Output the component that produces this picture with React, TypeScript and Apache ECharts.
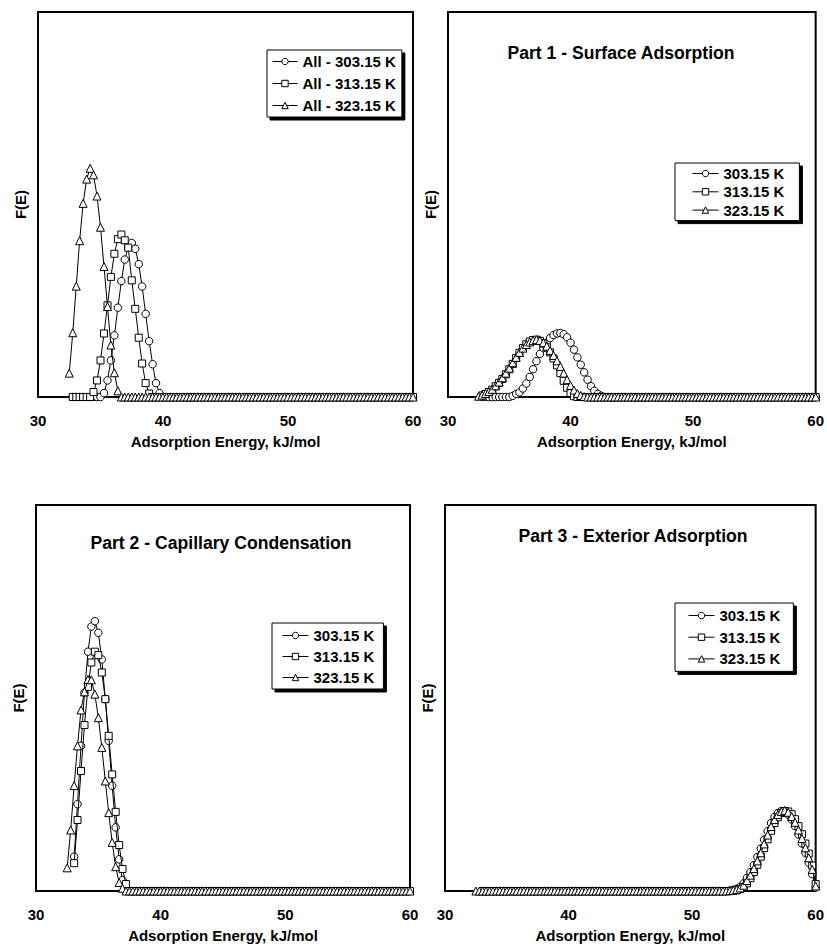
import React, { useEffect, useRef } from "react";
import * as echarts from "echarts";

const FONT = "'Liberation Sans', Arial, Helvetica, sans-serif";

// Energy grid, kJ/mol
const ENERGY = [
  32.5, 32.78, 33.06, 33.33, 33.61, 33.89, 34.17, 34.44, 34.72, 35.0,
  35.28, 35.56, 35.83, 36.11, 36.39, 36.67, 36.94, 37.22, 37.5, 37.78,
  38.06, 38.33, 38.61, 38.89, 39.17, 39.44, 39.72, 40.0, 40.28, 40.56,
  40.83, 41.11, 41.39, 41.67, 41.94, 42.22, 42.5, 42.78, 43.06, 43.33,
  43.61, 43.89, 44.17, 44.44, 44.72, 45.0, 45.28, 45.56, 45.83, 46.11,
  46.39, 46.67, 46.94, 47.22, 47.5, 47.78, 48.06, 48.33, 48.61, 48.89,
  49.17, 49.44, 49.72, 50.0, 50.28, 50.56, 50.83, 51.11, 51.39, 51.67,
  51.94, 52.22, 52.5, 52.78, 53.06, 53.33, 53.61, 53.89, 54.17, 54.44,
  54.72, 55.0, 55.28, 55.56, 55.83, 56.11, 56.39, 56.67, 56.94, 57.22,
  57.5, 57.78, 58.06, 58.33, 58.61, 58.89, 59.17, 59.44, 59.72, 60.0,
];

const X_TICKS = [30, 40, 50, 60];
const NAMES_ALL = ["All - 303.15 K", "All - 313.15 K", "All - 323.15 K"];
const NAMES = ["303.15 K", "313.15 K", "323.15 K"];
const TITLES = ["", "Part 1 - Surface Adsorption", "Part 2 - Capillary Condensation", "Part 3 - Exterior Adsorption"];

// Panel 1 - All
const ALL_303 = [
  null, 0, 0, 0, 0, 0, 0, 0, 0, 0,
  0.01, 0.043, 0.095, 0.16, 0.232, 0.301, 0.357, 0.39, 0.4, 0.385,
  0.345, 0.287, 0.216, 0.145, 0.085, 0.036, 0.01, 0, 0, 0,
  0, 0, 0, 0, 0, 0, 0, 0, 0, 0,
  0, 0, 0, 0, 0, 0, 0, 0, 0, 0,
  0, 0, 0, 0, 0, 0, 0, 0, 0, 0,
  0, 0, 0, 0, 0, 0, 0, 0, 0, 0,
  0, 0, 0, 0, 0, 0, 0, 0, 0, 0,
  0, 0, 0, 0, 0, 0, 0, 0, 0, 0,
  0, 0, 0, 0, 0, 0, 0, 0, 0, 0,
];
const ALL_313 = [
  null, 0, 0, 0, 0, 0, 0, 0.013, 0.043, 0.095,
  0.165, 0.238, 0.312, 0.372, 0.41, 0.422, 0.407, 0.388, 0.303, 0.229,
  0.154, 0.087, 0.036, 0.009, 0, 0, 0, 0, 0, 0,
  0, 0, 0, 0, 0, 0, 0, 0, 0, 0,
  0, 0, 0, 0, 0, 0, 0, 0, 0, 0,
  0, 0, 0, 0, 0, 0, 0, 0, 0, 0,
  0, 0, 0, 0, 0, 0, 0, 0, 0, 0,
  0, 0, 0, 0, 0, 0, 0, 0, 0, 0,
  0, 0, 0, 0, 0, 0, 0, 0, 0, 0,
  0, 0, 0, 0, 0, 0, 0, 0, 0, 0,
];
const ALL_323 = [
  0.062, 0.167, 0.288, 0.406, 0.503, 0.566, 0.594, 0.577, 0.522, 0.441,
  0.339, 0.235, 0.135, 0.063, 0.016, 0, 0, 0, 0, 0,
  0, 0, 0, 0, 0, 0, 0, 0, 0, 0,
  0, 0, 0, 0, 0, 0, 0, 0, 0, 0,
  0, 0, 0, 0, 0, 0, 0, 0, 0, 0,
  0, 0, 0, 0, 0, 0, 0, 0, 0, 0,
  0, 0, 0, 0, 0, 0, 0, 0, 0, 0,
  0, 0, 0, 0, 0, 0, 0, 0, 0, 0,
  0, 0, 0, 0, 0, 0, 0, 0, 0, 0,
  0, 0, 0, 0, 0, 0, 0, 0, 0, 0,
];

// Panel 2 - Surface adsorption
const SURF_303 = [
  null, 0, 0, 0, 0, 0, 0, 0, 0, 0,
  0.003, 0.008, 0.012, 0.022, 0.035, 0.052, 0.072, 0.093, 0.112, 0.127,
  0.141, 0.153, 0.161, 0.165, 0.166, 0.163, 0.155, 0.141, 0.123, 0.103,
  0.084, 0.064, 0.045, 0.028, 0.016, 0.008, 0.003, 0, 0, 0,
  0, 0, 0, 0, 0, 0, 0, 0, 0, 0,
  0, 0, 0, 0, 0, 0, 0, 0, 0, 0,
  0, 0, 0, 0, 0, 0, 0, 0, 0, 0,
  0, 0, 0, 0, 0, 0, 0, 0, 0, 0,
  0, 0, 0, 0, 0, 0, 0, 0, 0, 0,
  0, 0, 0, 0, 0, 0, 0, 0, 0, 0,
];
const SURF_313 = [
  null, 0.004, 0.008, 0.013, 0.019, 0.028, 0.037, 0.047, 0.059, 0.072,
  0.086, 0.101, 0.115, 0.127, 0.137, 0.144, 0.148, 0.149, 0.146, 0.139,
  0.129, 0.116, 0.1, 0.082, 0.062, 0.042, 0.024, 0.01, 0.002, 0,
  0, 0, 0, 0, 0, 0, 0, 0, 0, 0,
  0, 0, 0, 0, 0, 0, 0, 0, 0, 0,
  0, 0, 0, 0, 0, 0, 0, 0, 0, 0,
  0, 0, 0, 0, 0, 0, 0, 0, 0, 0,
  0, 0, 0, 0, 0, 0, 0, 0, 0, 0,
  0, 0, 0, 0, 0, 0, 0, 0, 0, 0,
  0, 0, 0, 0, 0, 0, 0, 0, 0, 0,
];
const SURF_323 = [
  0.002, 0.005, 0.009, 0.014, 0.02, 0.029, 0.039, 0.05, 0.062, 0.075,
  0.089, 0.103, 0.116, 0.127, 0.136, 0.143, 0.147, 0.149, 0.147, 0.141,
  0.132, 0.121, 0.108, 0.094, 0.079, 0.062, 0.045, 0.03, 0.018, 0.009,
  0.004, 0.001, 0, 0, 0, 0, 0, 0, 0, 0,
  0, 0, 0, 0, 0, 0, 0, 0, 0, 0,
  0, 0, 0, 0, 0, 0, 0, 0, 0, 0,
  0, 0, 0, 0, 0, 0, 0, 0, 0, 0,
  0, 0, 0, 0, 0, 0, 0, 0, 0, 0,
  0, 0, 0, 0, 0, 0, 0, 0, 0, 0,
  0, 0, 0, 0, 0, 0, 0, 0, 0, 0,
];

// Panel 3 - Capillary condensation
const CAP_303 = [
  null, null, 0.089, 0.225, 0.376, 0.514, 0.62, 0.685, 0.699, 0.669,
  0.6, 0.497, 0.389, 0.273, 0.165, 0.082, 0.028, 0.008, 0, 0,
  0, 0, 0, 0, 0, 0, 0, 0, 0, 0,
  0, 0, 0, 0, 0, 0, 0, 0, 0, 0,
  0, 0, 0, 0, 0, 0, 0, 0, 0, 0,
  0, 0, 0, 0, 0, 0, 0, 0, 0, 0,
  0, 0, 0, 0, 0, 0, 0, 0, 0, 0,
  0, 0, 0, 0, 0, 0, 0, 0, 0, 0,
  0, 0, 0, 0, 0, 0, 0, 0, 0, 0,
  0, 0, 0, 0, 0, 0, 0, 0, 0, 0,
];
const CAP_313 = [
  null, null, 0.072, 0.184, 0.311, 0.43, 0.529, 0.592, 0.62, 0.611,
  0.566, 0.497, 0.402, 0.302, 0.205, 0.119, 0.057, 0.018, 0, 0,
  0, 0, 0, 0, 0, 0, 0, 0, 0, 0,
  0, 0, 0, 0, 0, 0, 0, 0, 0, 0,
  0, 0, 0, 0, 0, 0, 0, 0, 0, 0,
  0, 0, 0, 0, 0, 0, 0, 0, 0, 0,
  0, 0, 0, 0, 0, 0, 0, 0, 0, 0,
  0, 0, 0, 0, 0, 0, 0, 0, 0, 0,
  0, 0, 0, 0, 0, 0, 0, 0, 0, 0,
  0, 0, 0, 0, 0, 0, 0, 0, 0, 0,
];
const CAP_323 = [
  0.06, 0.158, 0.273, 0.376, 0.469, 0.516, 0.548, 0.547, 0.51, 0.449,
  0.372, 0.285, 0.203, 0.126, 0.063, 0.022, 0.007, 0, 0, 0,
  0, 0, 0, 0, 0, 0, 0, 0, 0, 0,
  0, 0, 0, 0, 0, 0, 0, 0, 0, 0,
  0, 0, 0, 0, 0, 0, 0, 0, 0, 0,
  0, 0, 0, 0, 0, 0, 0, 0, 0, 0,
  0, 0, 0, 0, 0, 0, 0, 0, 0, 0,
  0, 0, 0, 0, 0, 0, 0, 0, 0, 0,
  0, 0, 0, 0, 0, 0, 0, 0, 0, 0,
  0, 0, 0, 0, 0, 0, 0, 0, 0, 0,
];

// Panel 4 - Exterior adsorption
const EXT_303 = [
  null, null, 0, 0, 0, 0, 0, 0, 0, 0,
  0, 0, 0, 0, 0, 0, 0, 0, 0, 0,
  0, 0, 0, 0, 0, 0, 0, 0, 0, 0,
  0, 0, 0, 0, 0, 0, 0, 0, 0, 0,
  0, 0, 0, 0, 0, 0, 0, 0, 0, 0,
  0, 0, 0, 0, 0, 0, 0, 0, 0, 0,
  0, 0, 0, 0, 0, 0, 0, 0, 0, 0,
  0, 0, 0, 0, 0.001, 0.003, 0.006, 0.011, 0.02, 0.034,
  0.049, 0.067, 0.088, 0.11, 0.133, 0.155, 0.176, 0.192, 0.202, 0.207,
  0.206, 0.198, 0.185, 0.168, 0.146, 0.123, 0.099, 0.073, 0.044, 0.009,
];
const EXT_313 = [
  null, null, 0, 0, 0, 0, 0, 0, 0, 0,
  0, 0, 0, 0, 0, 0, 0, 0, 0, 0,
  0, 0, 0, 0, 0, 0, 0, 0, 0, 0,
  0, 0, 0, 0, 0, 0, 0, 0, 0, 0,
  0, 0, 0, 0, 0, 0, 0, 0, 0, 0,
  0, 0, 0, 0, 0, 0, 0, 0, 0, 0,
  0, 0, 0, 0, 0, 0, 0, 0, 0, 0,
  0, 0, 0, 0, 0, 0.001, 0.002, 0.005, 0.01, 0.02,
  0.033, 0.049, 0.068, 0.089, 0.111, 0.134, 0.156, 0.176, 0.191, 0.202,
  0.207, 0.206, 0.199, 0.186, 0.168, 0.147, 0.123, 0.097, 0.066, 0.018,
];
const EXT_323 = [
  0, 0, 0, 0, 0, 0, 0, 0, 0, 0,
  0, 0, 0, 0, 0, 0, 0, 0, 0, 0,
  0, 0, 0, 0, 0, 0, 0, 0, 0, 0,
  0, 0, 0, 0, 0, 0, 0, 0, 0, 0,
  0, 0, 0, 0, 0, 0, 0, 0, 0, 0,
  0, 0, 0, 0, 0, 0, 0, 0, 0, 0,
  0, 0, 0, 0, 0, 0, 0, 0, 0, 0,
  0, 0, 0, 0, 0.001, 0.002, 0.004, 0.008, 0.015, 0.027,
  0.041, 0.058, 0.078, 0.099, 0.122, 0.145, 0.167, 0.185, 0.198, 0.206,
  0.209, 0.204, 0.193, 0.178, 0.158, 0.136, 0.112, 0.086, 0.056, 0.013,
];

const PANELS = [
  { names: NAMES_ALL, values: [ALL_303, ALL_313, ALL_323] },
  { names: NAMES, values: [SURF_303, SURF_313, SURF_323] },
  { names: NAMES, values: [CAP_303, CAP_313, CAP_323] },
  { names: NAMES, values: [EXT_303, EXT_313, EXT_323] },
];

const SYMBOLS = ["circle", "rect", "triangle"];
const SYMBOL_SIZES = [7.5, 7, 8];

const GRIDS = [
  { left: 38, top: 12, width: 375, height: 385 },
  { left: 448, top: 12, width: 375, height: 385 },
  { left: 36, top: 505, width: 374, height: 386 },
  { left: 445, top: 505, width: 375, height: 386 },
];

const LEGENDS = [
  { left: 267, top: 50, padding: [4, 6, 4, 5], itemGap: 7, itemWidth: 25 },
  { left: 675, top: 163, padding: [3, 15, 3, 17], itemGap: 3.3, itemWidth: 26 },
  { left: 272, top: 623, padding: [5, 9, 4, 10], itemGap: 6, itemWidth: 26 },
  { left: 675, top: 603, padding: [5, 13, 5, 13], itemGap: 6.7, itemWidth: 26 },
];

const TITLE_POS = [null, [621, 53], [221, 543], [633, 536]];

export default function App() {
  const ref = useRef<HTMLDivElement>(null);

  useEffect(() => {
    if (!ref.current) return;
    const chart = echarts.init(ref.current, undefined, { renderer: "svg" });

    const bold15 = { fontFamily: FONT, fontWeight: "bold", fontSize: 15, color: "#000" };

    const grid = GRIDS.map((g) => ({
      ...g,
      show: true,
      borderColor: "#000",
      borderWidth: 2,
      backgroundColor: "#fff",
      containLabel: false,
    }));

    const xAxis = GRIDS.map((_, i) => ({
      type: "value",
      gridIndex: i,
      min: X_TICKS[0],
      max: X_TICKS[X_TICKS.length - 1],
      interval: 10,
      axisLine: { show: false },
      axisTick: { show: true, inside: true, length: 4, lineStyle: { color: "#000", width: 1.5 } },
      splitLine: { show: false },
      axisLabel: { ...bold15, margin: 16 },
      name: "Adsorption Energy, kJ/mol",
      nameLocation: "middle",
      nameGap: 37,
      nameTextStyle: bold15,
    }));

    const yAxis = GRIDS.map((_, i) => ({
      type: "value",
      gridIndex: i,
      min: 0,
      max: 1,
      axisLine: { show: false },
      axisTick: { show: false },
      axisLabel: { show: false },
      splitLine: { show: false },
      name: "F(E)",
      nameLocation: "middle",
      nameRotate: 90,
      nameGap: 10,
      nameTextStyle: bold15,
    }));

    const series: any[] = [];
    PANELS.forEach((p, gi) => {
      p.values.forEach((vals, si) => {
        series.push({
          type: "line",
          name: p.names[si],
          xAxisIndex: gi,
          yAxisIndex: gi,
          data: ENERGY.map((e, k) => [e, vals[k]]).filter((d) => d[1] !== null),
          symbol: SYMBOLS[si],
          symbolSize: SYMBOL_SIZES[si],
          showSymbol: true,
          clip: false,
          lineStyle: { color: "#000", width: 1 },
          itemStyle: { color: "#fff", borderColor: "#000", borderWidth: 1 },
          emphasis: { disabled: true },
          z: 2 + si,
        });
      });
    });

    const legend = LEGENDS.map((l, i) => ({
      ...l,
      orient: "vertical",
      data: PANELS[i].names,
      itemHeight: 8,
      lineStyle: { width: 1, color: "#000" },
      itemStyle: { color: "#fff", borderColor: "#000", borderWidth: 1 },
      textStyle: { ...bold15 },
      backgroundColor: "#fff",
      borderColor: "#000",
      borderWidth: 1,
      borderRadius: 0,
      shadowColor: "#000",
      shadowOffsetX: 3,
      shadowOffsetY: 3,
      shadowBlur: 0,
      selectedMode: false,
    }));

    const graphic: any[] = [];
    TITLES.forEach((t, i) => {
      const pos = TITLE_POS[i];
      if (!t || !pos) return;
      graphic.push({
        type: "text",
        x: pos[0],
        y: pos[1],
        z: 10,
        style: {
          text: t,
          fill: "#000",
          font: `bold 17.6px ${FONT}`,
          align: "center",
          verticalAlign: "middle",
          textAlign: "center",
          textVerticalAlign: "middle",
        },
      });
    });

    chart.setOption({
      animation: false,
      backgroundColor: "#fff",
      grid,
      xAxis,
      yAxis,
      legend,
      series,
      graphic,
    });

    return () => chart.dispose();
  }, []);

  return (
    <div
      ref={ref}
      style={{ position: "absolute", left: 0, top: 0, width: 827, height: 944 }}
    />
  );
}
